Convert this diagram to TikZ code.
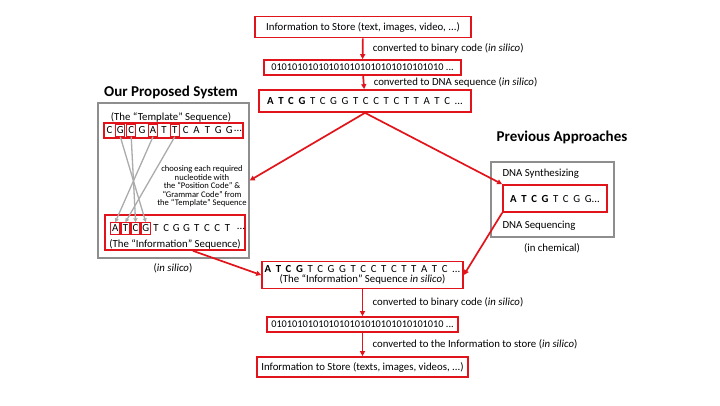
\documentclass[tikz,border=0pt]{standalone}
\usepackage{fontspec}
\setmainfont{Carlito}
\usetikzlibrary{arrows.meta,positioning,calc}
\definecolor{seqred}{HTML}{E2141B}
\definecolor{framegrey}{HTML}{8E8E8E}
\definecolor{pickgrey}{HTML}{ABABAB}
\newcommand{\widegap}{\spaceskip=4.6pt plus 0pt minus 0pt\relax}

\begin{document}
\begin{tikzpicture}[x=1pt,y=-1pt,font=\fontsize{10.8}{12}\selectfont,
  redbox/.style={draw=seqred,line width=1.7pt,inner sep=0pt},
  greybox/.style={draw=framegrey,line width=1.4pt,inner sep=0pt},
  flow/.style={draw=seqred,line width=1.7pt,-{Triangle[length=5pt,width=5pt]}},
  pick/.style={draw=pickgrey,line width=1.3pt,-{Triangle[length=4pt,width=4pt]}},
  letter/.style={inner sep=0pt,minimum width=8.5pt,minimum height=12pt},
  bits/.style={font=\fontsize{10.3}{12}\selectfont},
  heading/.style={font=\fontsize{15}{17}\selectfont\bfseries}]
  \useasboundingbox (0,0) rectangle (720,405);

  % main column
  \node[redbox,minimum width=216pt,minimum height=21pt] (store) at (363,27)
    {Information to Store (text, images, video, ...)};
  \node[redbox,bits,minimum width=197pt,minimum height=15pt] (bin1) at (362.5,67.5)
    {010101010101010101010101010101010 ...};
  \node[redbox,minimum width=212pt,minimum height=22pt] (dna1) at (365,101)
    {\widegap\textbf{A T C G} T C G G T C C T C T T A T C ...};
  \node[redbox,minimum width=201pt,minimum height=27pt,align=center] (dna2) at (362.5,275)
    {{\widegap\textbf{A T C G} T C G G T C C T C T T A T C ...}\\[-1.5pt]
     (The “Information” Sequence \textit{in silico})};
  \node[redbox,bits,minimum width=191pt,minimum height=15pt] (bin2) at (362.5,324.5)
    {010101010101010101010101010101010 ...};
  \node[redbox,minimum width=211pt,minimum height=20pt] (back) at (362.5,367)
    {Information to Store (texts, images, videos, ...)};

  \draw[flow] (store) -- node[anchor=west,xshift=6pt] {converted to binary code (\textit{in silico})} (bin1);
  \draw[flow] (bin1) -- node[anchor=west,xshift=6pt] {converted to DNA sequence (\textit{in silico})} (dna1);
  \draw[flow] (dna2) -- node[anchor=west,xshift=6pt] {converted to binary code (\textit{in silico})} (bin2);
  \draw[flow] (bin2) -- node[anchor=west,xshift=6pt] {converted to the Information to store (\textit{in silico})} (back);

  % our proposed system
  \node[heading] (systitle) at (171,92) {Our Proposed System};
  \node[greybox,minimum width=151pt,minimum height=155pt] (sys) at (173.5,180.5) {};
  \node (tmpllabel) at (171,117) {(The “Template” Sequence)};
  \node[redbox,minimum width=139pt,minimum height=15pt] (tmpl) at (173.5,130.5) {};
  \foreach \l [count=\i] in {C,G,C,G,A,T,T,C,A,T,G,G}
    \node[letter] (t\i) at ({98.5+10.9*\i},130.5) {\l};
  \node[letter] (tdots) at (238,130.5) {...};
  \foreach \i in {2,3,5,7}
    \draw[seqred,line width=1.2pt] (t\i.south west) rectangle (t\i.north east);

  \node[redbox,minimum width=140pt,minimum height=35pt] (info) at (175,232.5) {};
  \foreach \l [count=\i] in {A,T,C,G,T,C,G,G,T,C,C,T}
    \node[letter] (i\i) at ({105+10.2*\i},228.5) {\l};
  \node[letter] (idots) at (241,228.5) {...};
  \foreach \i in {1,...,4}
    \draw[seqred,line width=1.4pt] (i\i.south west) rectangle (i\i.north east);
  \node (infolabel) at (175,244) {(The “Information” Sequence)};

  \draw[pick] (t2.south) -- (i4.north);
  \draw[pick] (t3.south) -- (i3.north);
  \draw[pick] (t5.south) -- (i1.north);
  \draw[pick] (t7.south) -- (i2.north);
  \node[align=center,font=\fontsize{8.6}{8.4}\selectfont] (choose) at (202,186.5)
    {choosing each required\\nucleotide with\\the “Position Code” \&\\“Grammar Code” from\\the “Template” Sequence};
  \node (syssilico) at (173,268) {(\textit{in silico})};

  % previous approaches
  \node[heading] (prevtitle) at (562,137) {Previous Approaches};
  \node[greybox,minimum width=123pt,minimum height=75pt] (prev) at (552.5,199.5) {};
  \node[anchor=west] (synth) at (499,174) {DNA Synthesizing};
  \node[redbox,minimum width=104pt,minimum height=27pt] (prevseq) at (555,198.5)
    {\widegap\textbf{A T C G} T C G G...};
  \node[anchor=west] (seqing) at (499,226) {DNA Sequencing};
  \node (chem) at (552,248) {(in chemical)};

  \draw[flow] (dna1.south) -- (sys.east);
  \draw[flow] (dna1.south) -- (prevseq.north west);
  \draw[flow] (prevseq.south west) -- (dna2.east);
  \draw[flow] ([xshift=18pt]info.south) -- (dna2.west);
\end{tikzpicture}
\end{document}
